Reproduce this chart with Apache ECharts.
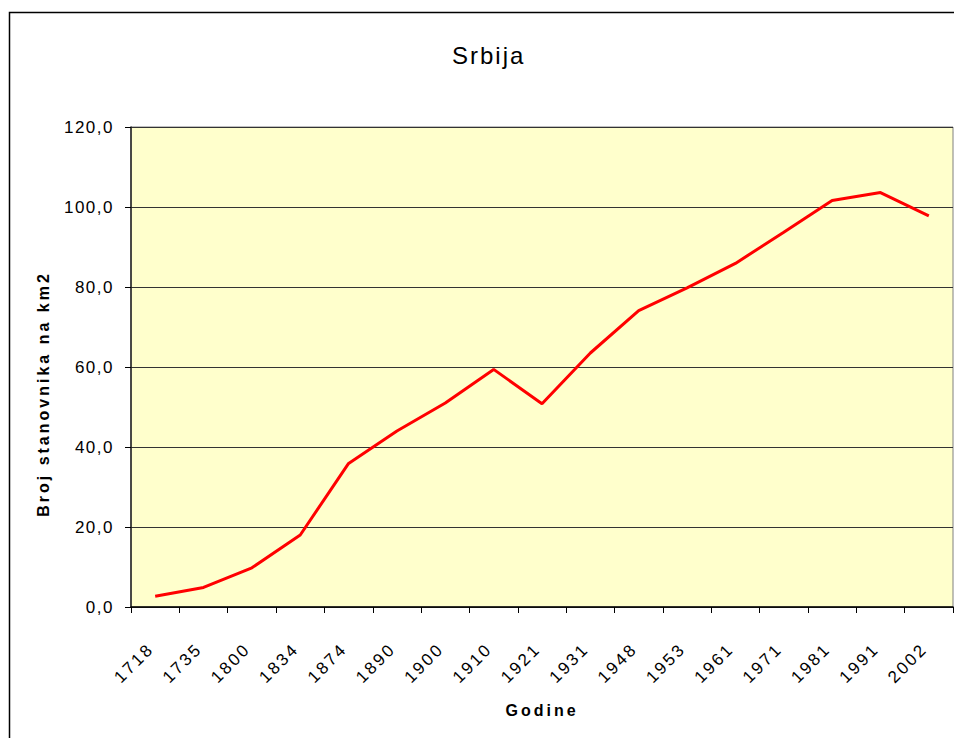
<!DOCTYPE html>
<html>
<head>
<meta charset="utf-8">
<script src="https://cdn.jsdelivr.net/npm/echarts@6/dist/echarts.min.js"></script>
<style>
  html, body { margin: 0; padding: 0; background: #fff; }
  #chart { width: 954px; height: 738px; }
  #chart text { letter-spacing: 1.5px; }
</style>
</head>
<body>
<div id="chart"></div>
<script>
const titleText = 'Srbija';
const xAxisName = 'Godine';
const yAxisName = 'Broj stanovnika na km2';
const years = ['1718','1735','1800','1834','1874','1890','1900','1910','1921','1931','1948','1953','1961','1971','1981','1991','2002'];
const density = [2.7, 4.9, 9.8, 18.0, 35.9, 44.0, 51.0, 59.4, 50.8, 63.5, 74.1, 79.8, 85.9, 93.7, 101.6, 103.6, 97.8];
const yTicks = [0, 20, 40, 60, 80, 100, 120];

const FONT = '"Liberation Sans", Arial, sans-serif';
const chart = echarts.init(document.getElementById('chart'), null, { renderer: 'svg' });

function applySpacing() {
  document.querySelectorAll('#chart text').forEach(t => {
    const s = t.textContent;
    let sp = '1.5px';
    if (s === titleText) sp = '2px';
    else if (s === xAxisName || s === yAxisName) sp = '3px';
    else if (years.includes(s)) sp = '2.5px';
    t.style.letterSpacing = sp;
  });
}
chart.on('finished', applySpacing);

chart.setOption({
  animation: false,
  backgroundColor: '#ffffff',
  graphic: [{
    type: 'rect',
    shape: { x: 9.5, y: 12.5, width: 1200, height: 1000 },
    style: { fill: 'none', stroke: '#000', lineWidth: 1.5 },
    z: -1
  }],
  title: {
    text: titleText,
    left: 447,
    top: 38,
    textStyle: { fontFamily: FONT, fontSize: 24, fontWeight: 'normal', color: '#000' }
  },
  grid: {
    left: 131, top: 127, right: 1, bottom: 131,
    show: true, backgroundColor: '#FFFFCC', borderColor: '#808080', borderWidth: 1
  },
  xAxis: {
    type: 'category',
    data: years,
    boundaryGap: true,
    name: xAxisName,
    nameLocation: 'middle',
    nameGap: 95,
    nameTextStyle: { fontFamily: FONT, fontSize: 16, fontWeight: 'bold', color: '#000' },
    axisLine: { lineStyle: { color: '#000', width: 1.5 } },
    axisTick: { show: true, length: 6, alignWithLabel: false, lineStyle: { color: '#000' } },
    axisLabel: { rotate: 45, margin: 35, padding: [0, 6, 0, 0], interval: 0, fontFamily: FONT, fontSize: 17, color: '#000' },
    splitLine: { show: false }
  },
  yAxis: {
    type: 'value',
    min: 0, max: 120, interval: 20,
    name: yAxisName,
    nameLocation: 'middle',
    nameGap: 80,
    nameRotate: 90,
    nameTextStyle: { fontFamily: FONT, fontSize: 16, fontWeight: 'bold', color: '#000', padding: [0, 54, 0, 0] },
    axisLine: { show: true, lineStyle: { color: '#222', width: 1.5 } },
    axisTick: { show: true, length: 6, inside: false, lineStyle: { color: '#000' } },
    axisLabel: {
      margin: 17, fontFamily: FONT, fontSize: 17, color: '#000',
      formatter: v => yTicks.includes(v) ? v.toFixed(1).replace('.', ',') : ''
    },
    splitLine: { show: true, lineStyle: { color: '#333', width: 1 } }
  },
  series: [{
    type: 'line',
    data: density,
    symbol: 'none',
    lineStyle: { color: '#FF0000', width: 3 },
    itemStyle: { color: '#FF0000' }
  }]
});
applySpacing();
</script>
</body>
</html>
